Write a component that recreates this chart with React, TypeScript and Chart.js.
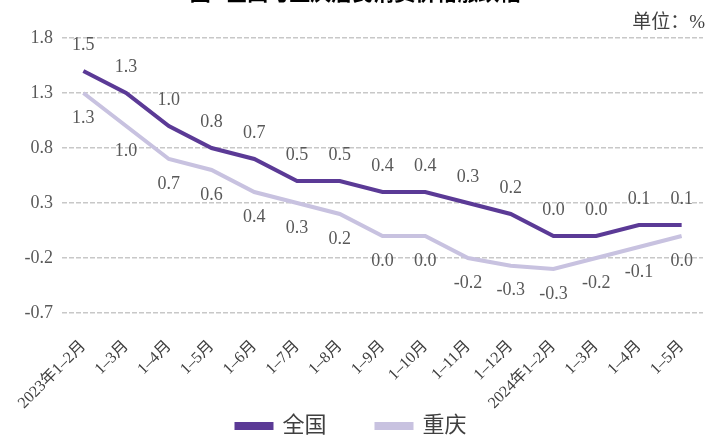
import React, { useEffect, useRef } from 'react';
import { Chart, registerables } from 'chart.js';
Chart.register(...registerables);

const categories = ['2023年1–2月', '1–3月', '1–4月', '1–5月', '1–6月', '1–7月', '1–8月', '1–9月', '1–10月', '1–11月', '1–12月', '2024年1–2月', '1–3月', '1–4月', '1–5月'];
const national = [1.5, 1.3, 1.0, 0.8, 0.7, 0.5, 0.5, 0.4, 0.4, 0.3, 0.2, 0.0, 0.0, 0.1, 0.1];
const chongqing = [1.3, 1.0, 0.7, 0.6, 0.4, 0.3, 0.2, 0.0, 0.0, -0.2, -0.27, -0.3, -0.2, -0.1, 0.0];
const seriesNames = ['全国', '重庆'];
const yMin = -0.7;
const yMax = 1.8;
const yStep = 0.5;

const SERIF = '"Liberation Serif", "Noto Sans CJK SC", serif';

const labelPlugin = {
  id: 'valueLabels',
  afterDatasetsDraw(chart: any) {
    const ctx = chart.ctx;
    ctx.save();
    ctx.font = '18px ' + SERIF;
    ctx.fillStyle = '#595959';
    ctx.textAlign = 'center';
    ctx.textBaseline = 'middle';
    chart.data.datasets.forEach((ds: any, di: number) => {
      const meta = chart.getDatasetMeta(di);
      meta.data.forEach((pt: any, i: number) => {
        const v = ds.data[i] as number;
        const txt = (Math.abs(v) < 0.05 ? 0 : v).toFixed(1);
        const dy = di === 0 ? -26 : 25;
        ctx.fillText(txt, pt.x, pt.y + dy);
      });
    });
    ctx.restore();
  },
};

export default function App() {
  const ref = useRef<HTMLCanvasElement>(null);
  useEffect(() => {
    document.body.style.margin = '0';
    const chart = new Chart(ref.current!, {
      type: 'line',
      data: {
        labels: categories,
        datasets: [
          { label: seriesNames[0], data: national, borderColor: '#5B3A96', backgroundColor: '#5B3A96', borderWidth: 4, pointRadius: 0, tension: 0 },
          { label: seriesNames[1], data: chongqing, borderColor: '#C8C2E0', backgroundColor: '#C8C2E0', borderWidth: 4, pointRadius: 0, tension: 0 },
        ],
      },
      options: {
        animation: false,
        responsive: false,
        layout: { padding: { left: 0, right: 17, top: 38, bottom: -11 } },
        plugins: {
          legend: {
            position: 'bottom',
            labels: {
              boxWidth: 35,
              boxHeight: 4,
              padding: 50,
              color: '#404040',
              font: { size: 22, family: SERIF },
            },
          },
          tooltip: { enabled: false },
          title: { display: false },
        },
        scales: {
          x: {
            offset: true,
            grid: { display: false },
            border: { display: false },
            afterFit(scale: any) {
              scale.height = 52;
              scale._computeLabelArea = () => undefined;
            },
            ticks: {
              minRotation: 45,
              maxRotation: 45,
              autoSkip: false,
              color: '#404040',
              font: { size: 16, family: SERIF },
              padding: 16,
            },
          },
          y: {
            min: yMin,
            max: yMax,
            afterFit(scale: any) { scale.width = 62; },
            ticks: {
              stepSize: yStep,
              color: '#595959',
              font: { size: 18, family: SERIF },
              padding: 9,
              callback: (v: any) => Number(v).toFixed(1),
            },
            grid: { color: '#C8C8C8', lineWidth: 1.5, drawTicks: false },
            border: { display: false, dash: [5, 2] },
          },
        },
      },
      plugins: [labelPlugin],
    });
    return () => chart.destroy();
  }, []);
  return (
    <div style={{ position: 'relative', width: 720, height: 436, overflow: 'hidden' }}>
      <div style={{ position: 'absolute', top: -24, left: 0, width: 710, textAlign: 'center', fontFamily: SERIF, fontSize: 21, fontWeight: 'bold', color: '#000' }}>图1  全国与重庆居民消费价格涨跌幅</div>
      <div style={{ position: 'absolute', top: 6, right: 15, fontFamily: SERIF, fontSize: 19, color: '#404040' }}>单位：%</div>
      <canvas ref={ref} width={720} height={436} style={{ display: 'block' }} />
    </div>
  );
}
